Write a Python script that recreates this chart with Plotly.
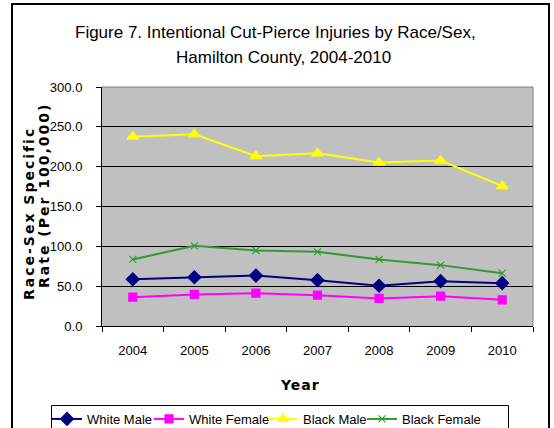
import plotly.graph_objects as go

# Rates per 100,000 by race/sex, Hamilton County
years = ["2004", "2005", "2006", "2007", "2008", "2009", "2010"]
white_male = [58.7, 61.2, 63.3, 57.5, 50.5, 56.3, 53.8]
white_female = [36.2, 39.6, 41.2, 38.7, 34.6, 37.4, 32.9]
black_male = [237.6, 240.6, 213.2, 216.8, 205.1, 207.6, 175.6]
black_female = [83.6, 100.6, 94.8, 93.1, 83.6, 76.4, 66.3]

y_ticks = [0, 50, 100, 150, 200, 250, 300]

W, H = 554, 428
L, R, T, B = 102, 21, 87, 102
PW, PH = W - L - R, H - T - B


def fx(px):
    return (px - L) / PW


def fy(py):
    return (T + PH - py) / PH


SANS = "Liberation Sans, Arial, sans-serif"
BOLD = "DejaVu Sans, Arial, sans-serif"

# name, values, colour, marker, marker size, legend slot, legend left edge (px)
series = [
    ("White Male", white_male, "#000080", "diamond", 10, "legend", 47),
    ("White Female", white_female, "#FF00FF", "square", 8, "legend2", 149),
    ("Black Male", black_male, "#FFFF00", "triangle-up", 10, "legend3", 263),
    ("Black Female", black_female, "#339933", "x-thin-open", 7, "legend4", 362),
]

fig = go.Figure()
legend_layout = {}
for name, vals, color, sym, size, leg, lx in series:
    fig.add_trace(go.Scatter(
        x=years, y=vals, name=name, mode="lines+markers", legend=leg,
        line=dict(color=color, width=2),
        marker=dict(symbol=sym, size=size, color=color,
                    line=dict(color=color, width=1.2)),
    ))
    legend_layout[leg] = dict(
        orientation="h", x=fx(lx), y=fy(404), xanchor="left", yanchor="top",
        bgcolor="rgba(0,0,0,0)", borderwidth=0,
        font=dict(family=SANS, size=13, color="black"), itemwidth=30,
    )

fig.update_layout(
    width=W, height=H,
    margin=dict(l=L, r=R, t=T, b=B, autoexpand=False),
    paper_bgcolor="white",
    plot_bgcolor="#C0C0C0",
    showlegend=True,
    xaxis=dict(
        type="category", range=[-0.5, 6.5], tickson="boundaries",
        ticks="outside", ticklen=5, tickcolor="black", tickwidth=1,
        showline=True, linecolor="black", linewidth=1,
        showgrid=False, zeroline=False, ticklabelstandoff=12,
        tickfont=dict(family=SANS, size=13, color="black"),
    ),
    yaxis=dict(
        range=[0, 300], tickvals=y_ticks, tickformat=".1f",
        ticks="outside", ticklen=5, tickcolor="black", tickwidth=1,
        showline=True, linecolor="black", linewidth=1,
        showgrid=True, gridcolor="black", gridwidth=1, zeroline=False,
        ticklabelstandoff=11,
        tickfont=dict(family=SANS, size=13, color="black"),
    ),
    **legend_layout,
)

# plot-area frame on the top and right sides
fig.add_shape(type="line", xref="paper", yref="paper", x0=0, x1=1, y0=1, y1=1,
              line=dict(color="#808080", width=1))
fig.add_shape(type="line", xref="paper", yref="paper", x0=1, x1=1, y0=0, y1=1,
              line=dict(color="#808080", width=1))

# legend box
fig.add_shape(type="rect", xref="paper", yref="paper",
              x0=fx(51.5), x1=fx(508.5), y0=fy(440), y1=fy(405.5),
              line=dict(color="black", width=1), layer="above")

# outer chart border
fig.add_shape(type="rect", xref="paper", yref="paper",
              x0=fx(12), x1=fx(549), y0=fy(440), y1=fy(4),
              line=dict(color="black", width=2), layer="above")


def spaced(text, px):
    return '<b><span style="letter-spacing:{}px">{}</span></b>'.format(px, text)


annotations = [
    dict(text="Figure 7. Intentional Cut-Pierce Injuries by Race/Sex,",
         x=fx(275), y=fy(32), font=dict(family=SANS, size=17, color="black")),
    dict(text="Hamilton County, 2004-2010",
         x=fx(283), y=fy(57), font=dict(family=SANS, size=17, color="black")),
    dict(text=spaced("Year", 1), x=fx(300), y=fy(385),
         font=dict(family=BOLD, size=14, color="black")),
    dict(text=spaced("Race-Sex Specific", 2),
         x=fx(29), y=fy(214), textangle=-90,
         font=dict(family=BOLD, size=14, color="black")),
    dict(text=spaced("Rate (Per 100,000)", 2),
         x=fx(44), y=fy(196), textangle=-90,
         font=dict(family=BOLD, size=14, color="black")),
]
for a in annotations:
    fig.add_annotation(xref="paper", yref="paper", xanchor="center",
                       yanchor="middle", showarrow=False, **a)

fig.write_html("out.html")
